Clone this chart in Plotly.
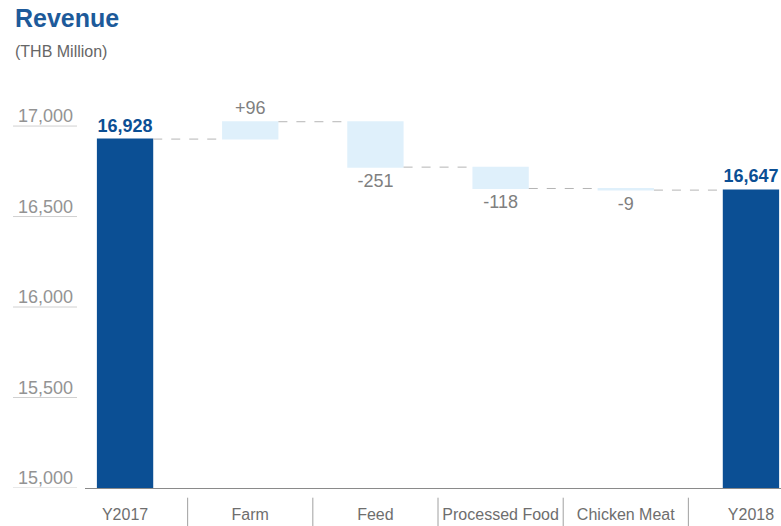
import plotly.graph_objects as go

# ---- data ----
categories = ["Y2017", "Farm", "Feed", "Processed Food", "Chicken Meat", "Y2018"]
values = [16928, 96, -251, -118, -9, 16647]
measures = ["absolute", "relative", "relative", "relative", "relative", "absolute"]
y_ticks = [15000, 15500, 16000, 16500, 17000]
y_tick_labels = ["15,000", "15,500", "16,000", "16,500", "17,000"]

DARK = "#0b4f94"
LIGHT = "#dff0fb"
GRAY_TXT = "#7f7f7f"

texts = []
for m, v in zip(measures, values):
    if m == "absolute":
        texts.append(f"<b>{v:,}</b>")
    else:
        texts.append(f"{v:+d}" if v > 0 else f"{v:d}")
text_colors = [DARK if m == "absolute" else GRAY_TXT for m in measures]

fig = go.Figure(go.Waterfall(
    x=categories,
    y=values,
    measure=measures,
    text=texts,
    textposition="outside",
    textfont=dict(size=18, color=text_colors, family="Liberation Sans"),
    width=0.45,
    totals=dict(marker=dict(color=DARK)),
    increasing=dict(marker=dict(color=LIGHT)),
    decreasing=dict(marker=dict(color=LIGHT)),
    connector=dict(line=dict(color="#b5b5b5", width=1, dash="dash")),
    cliponaxis=False,
    hoverinfo="skip",
))

shapes = []
# short underlines beneath y tick labels
for t in y_ticks:
    shapes.append(dict(type="line", xref="paper", yref="y",
                       x0=-0.1034, x1=-0.0115, y0=t, y1=t,
                       line=dict(color="#d0d0d0", width=1)))
# vertical separators between category labels
for i in range(len(categories) - 1):
    shapes.append(dict(type="line", xref="x", yref="paper",
                       x0=i + 0.5, x1=i + 0.5, y0=-0.025, y1=-0.1,
                       line=dict(color="#a0a0a0", width=1)))

fig.update_layout(
    width=781, height=526,
    margin=dict(l=85, r=0, t=100, b=38),
    plot_bgcolor="white", paper_bgcolor="white",
    font=dict(family="Liberation Sans", color=GRAY_TXT),
    showlegend=False,
    shapes=shapes,
    annotations=[
        dict(text="<b>Revenue</b>", xref="paper", yref="paper",
             x=-0.1034, y=1.2126, xanchor="left", yanchor="middle",
             showarrow=False, font=dict(size=25, color="#1d5a9a")),
        dict(text="(THB Million)", xref="paper", yref="paper",
             x=-0.1034, y=1.126, xanchor="left", yanchor="middle",
             showarrow=False, font=dict(size=16, color="#666666")),
    ],
    xaxis=dict(
        type="category",
        range=[-0.32, 5.24],
        showline=True, linecolor="#8a8a8a", linewidth=1,
        showgrid=False, ticks="",
        tickfont=dict(size=16, color="#6e6e6e"),
        ticklabelstandoff=12,
    ),
    yaxis=dict(
        range=[15000, 17144],
        tickvals=y_ticks, ticktext=y_tick_labels,
        showgrid=False, zeroline=False, showline=False, ticks="",
        tickfont=dict(size=18, color="#939393"),
        ticklabelshift=-10,
        ticklabelstandoff=11,
    ),
)

fig.write_html("out.html")
